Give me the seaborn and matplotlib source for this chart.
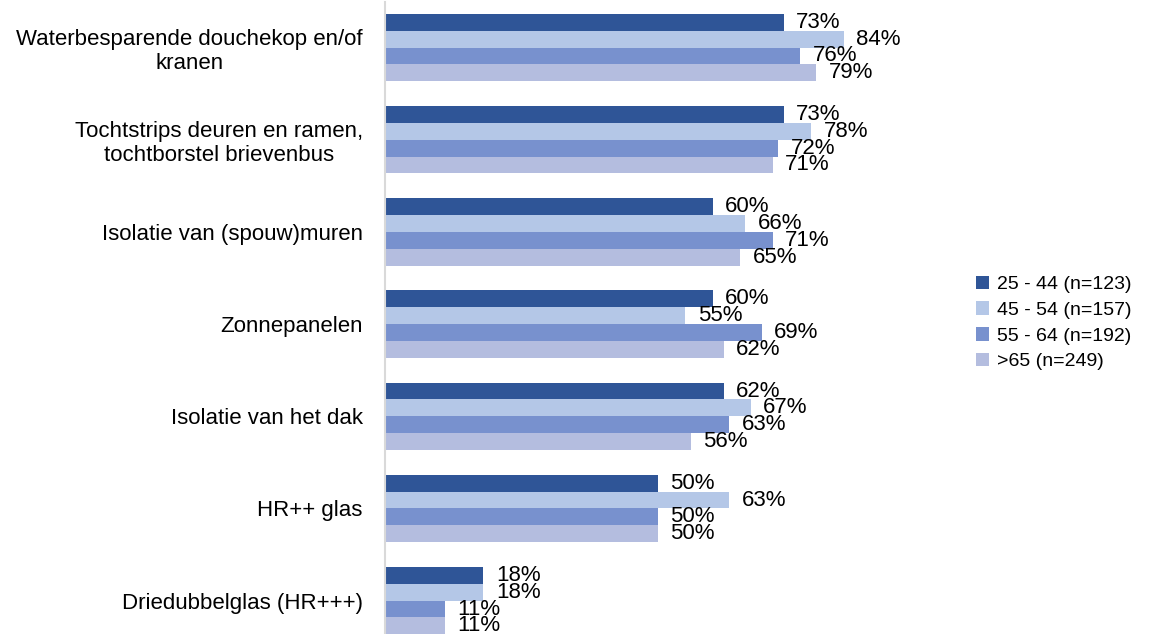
import matplotlib
matplotlib.use("Agg")
import matplotlib.pyplot as plt
import seaborn as sns
import pandas as pd

categories = [
    "Waterbesparende douchekop en/of\nkranen",
    "Tochtstrips deuren en ramen,\ntochtborstel brievenbus",
    "Isolatie van (spouw)muren",
    "Zonnepanelen",
    "Isolatie van het dak",
    "HR++ glas",
    "Driedubbelglas (HR+++)",
]
series_names = ["25 - 44 (n=123)", "45 - 54 (n=157)", "55 - 64 (n=192)", ">65 (n=249)"]
v_25_44 = [73, 73, 60, 60, 62, 50, 18]
v_45_54 = [84, 78, 66, 55, 67, 63, 18]
v_55_64 = [76, 72, 71, 69, 63, 50, 11]
v_65 = [79, 71, 65, 62, 56, 50, 11]
colors = ["#2F5597", "#B4C7E7", "#7891CE", "#B4BDDF"]

rows = []
for name, vals in zip(series_names, [v_25_44, v_45_54, v_55_64, v_65]):
    for c, v in zip(categories, vals):
        rows.append({"cat": c, "group": name, "val": v})
df = pd.DataFrame(rows)

sns.set_theme(style="white")
plt.rcParams["font.family"] = ["Liberation Sans", "DejaVu Sans"]

fig = plt.figure(figsize=(11.61, 6.34), dpi=100)
W, H = 1161, 634
left, right = 385, 931
top, bottom = 1.5, 646.7
ax = fig.add_axes([left / W, 1 - bottom / H, (right - left) / W, (bottom - top) / H])

sns.barplot(data=df, y="cat", x="val", hue="group", orient="h", palette=colors,
            width=0.73, ax=ax, order=categories, hue_order=series_names, saturation=1,
            legend=True, linewidth=0, edgecolor="none")

for cont in ax.containers:
    ax.bar_label(cont, labels=[f"{v:.0f}%" for v in cont.datavalues], padding=9,
                 fontsize=16, color="black")

ax.set_xlim(0, 100)
ax.set_ylim(6.5, -0.5)
ax.set_xlabel("")
ax.set_ylabel("")
ax.set_xticks([])
ax.tick_params(axis="y", length=0, labelsize=16, pad=16, labelcolor="black")
for lbl in ax.get_yticklabels():
    lbl.set_multialignment("center")
for s in ["top", "right", "bottom"]:
    ax.spines[s].set_visible(False)
ax.spines["left"].set_color("#D9D9D9")
ax.spines["left"].set_linewidth(1.5)

handles, labels = ax.get_legend_handles_labels()
ax.get_legend().remove()
fig.legend(handles, labels, loc="center left", bbox_to_anchor=(958 / W, 1 - 323 / H),
           frameon=False, fontsize=14, handlelength=0.7, handleheight=0.7,
           handletextpad=0.4, labelspacing=0.42, labelcolor="black")

fig.savefig("out.png", dpi=100)
